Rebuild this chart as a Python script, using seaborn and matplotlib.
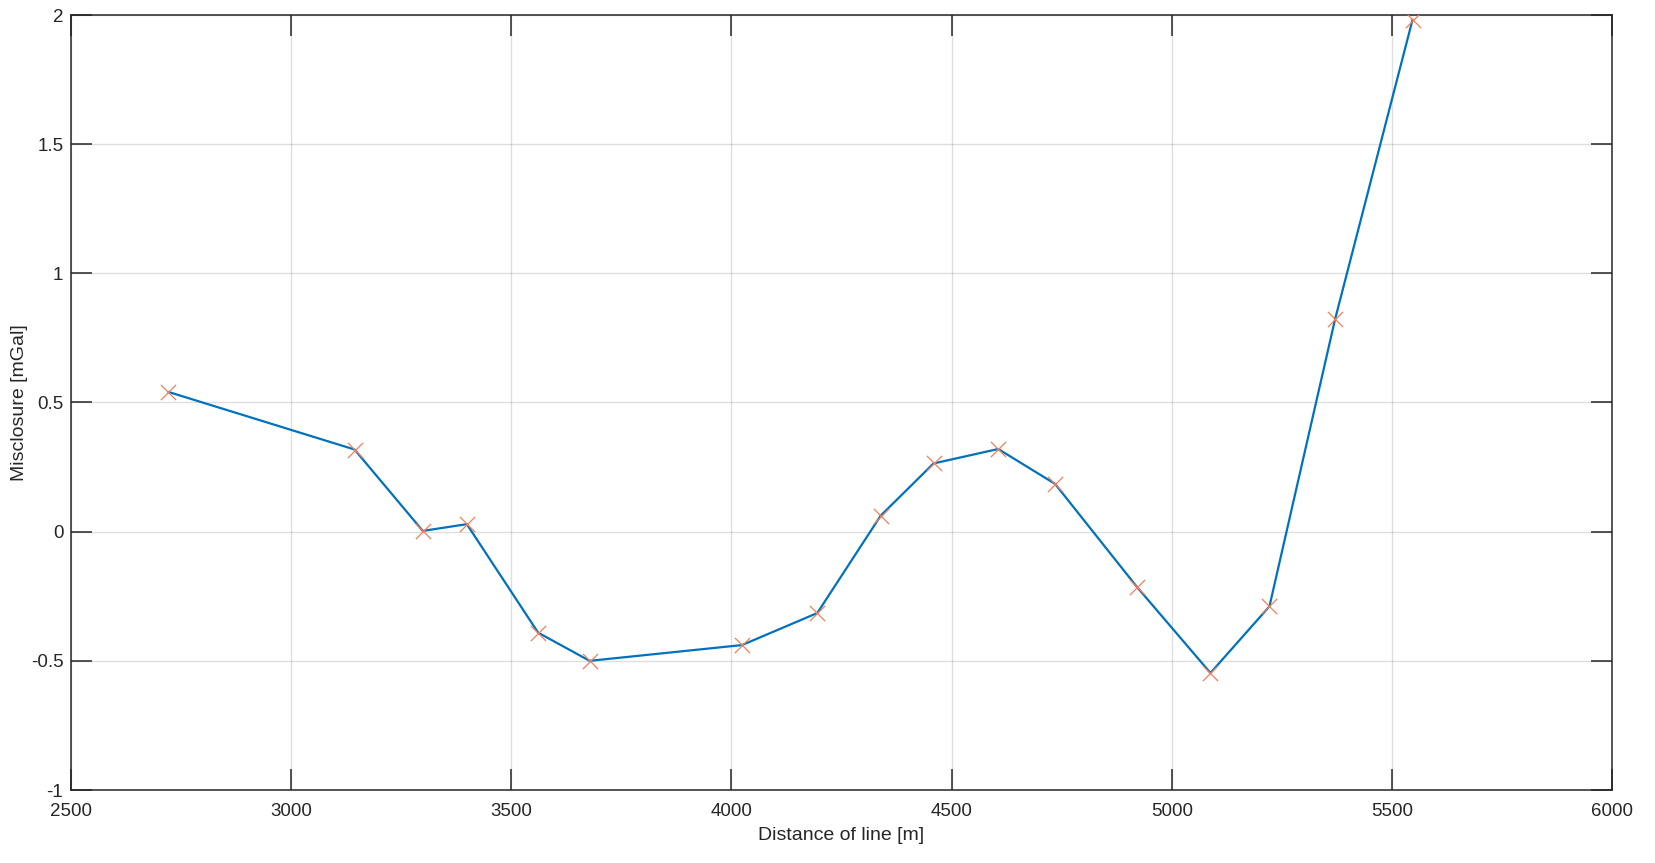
import numpy as np
import pandas as pd
import matplotlib
matplotlib.use("Agg")
import matplotlib.pyplot as plt
import seaborn as sns

# misclosure along the survey line
distance_m = [2721, 3144, 3299, 3399, 3561, 3678, 4024, 4195, 4339, 4459,
              4606, 4735, 4921, 5088, 5222, 5371, 5547]
misclosure_mgal = [0.541, 0.318, 0.003, 0.029, -0.391, -0.500, -0.439, -0.315,
                   0.062, 0.264, 0.320, 0.185, -0.214, -0.547, -0.289, 0.822, 1.982]

x_ticks = [2500, 3000, 3500, 4000, 4500, 5000, 5500, 6000]
y_ticks = [-1, -0.5, 0, 0.5, 1, 1.5, 2]
y_tick_labels = ["-1", "-0.5", "0", "0.5", "1", "1.5", "2"]

df = pd.DataFrame({"distance": distance_m, "misclosure": misclosure_mgal})

sns.set_style("white")
plt.rcParams["font.family"] = ["Liberation Sans", "DejaVu Sans"]

fig = plt.figure(figsize=(16.55, 8.63), dpi=100)
ax = fig.add_axes([71 / 1655, 1 - 790 / 863, (1612 - 71) / 1655, (790 - 15) / 863])

sns.lineplot(data=df, x="distance", y="misclosure", color="#0072BD",
             linewidth=1.6, ax=ax, zorder=3)
sns.scatterplot(data=df, x="distance", y="misclosure", marker="x", s=120,
                color="#F0805A", linewidth=0.9, ax=ax, zorder=4)

ax.set_xlim(2500, 6000)
ax.set_ylim(-1, 2)
ax.set_xticks(x_ticks)
ax.set_yticks(y_ticks)
ax.set_yticklabels(y_tick_labels)
ax.grid(True, color="#000000", alpha=0.13, linewidth=1.0)
ax.set_axisbelow(True)

for side in ["left", "right", "top", "bottom"]:
    ax.spines[side].set_visible(True)
    ax.spines[side].set_color("#262626")
    ax.spines[side].set_linewidth(1.1)

ax.tick_params(axis="both", which="both", direction="in", length=15, width=1.1,
               color="#262626", bottom=True, left=True, top=True, right=True,
               labelsize=13.5, labelcolor="#262626")
ax.tick_params(axis="x", pad=9)
ax.tick_params(axis="y", pad=5.5)

ax.set_xlabel("Distance of line [m]", fontsize=14, color="#262626")
ax.set_ylabel("Misclosure [mGal]", fontsize=14, color="#262626")
ax.xaxis.set_label_coords(0.5, -0.048)
ax.yaxis.set_label_coords(-0.028, 0.5)

fig.savefig("out.png", dpi=100, facecolor="white")
